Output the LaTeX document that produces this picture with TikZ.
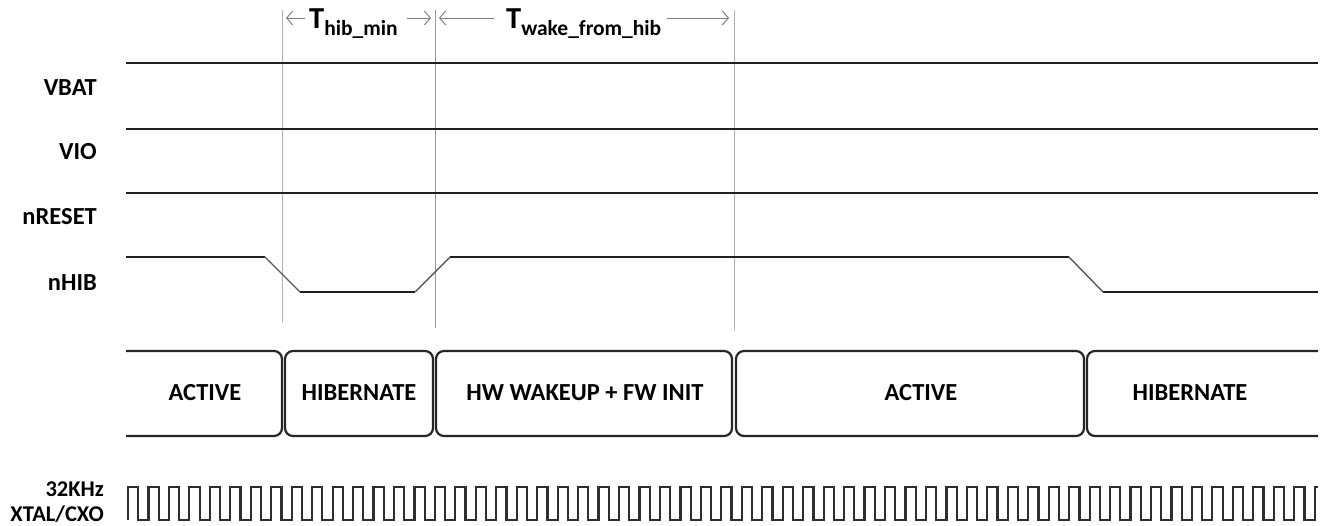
\documentclass[tikz,border=0pt]{standalone}
\usepackage{fontspec}
\setmainfont{Carlito}
\usetikzlibrary{arrows.meta}

\begin{document}
\begin{tikzpicture}[x=1pt,y=-1pt,
  wave/.style={line width=2.8pt,draw=black!88},
  slope/.style={line width=1.4pt,draw=black!65},
  clock/.style={line width=2.2pt,draw=black!82,line join=miter},
  guide/.style={line width=0.8pt,draw=black!30},
  span arrow/.style={line width=1pt,draw=black!50,-{Straight Barb[length=6pt,width=14pt]}},
  sig node/.style={anchor=east,inner sep=0pt,font=\fontsize{24.5}{26}\selectfont\bfseries},
  state node/.style={inner sep=0pt,font=\fontsize{24.5}{26}\selectfont\bfseries},
  bus/.style={line width=2.2pt,draw=black!85,rounded corners=8pt}]

  \useasboundingbox (0,0) rectangle (1322,525);

  % signal names
  \node[sig node] (vbat) at (97,88) {VBAT};
  \node[sig node] (vio) at (97,152) {VIO};
  \node[sig node] (nreset) at (97,217) {nRESET};
  \node[sig node] (nhib) at (97,283) {nHIB};
  \node[sig node,font=\fontsize{22.5}{24}\selectfont\bfseries] (xtal1) at (104,489) {32KHz};
  \node[sig node,font=\fontsize{22.5}{24}\selectfont\bfseries] (xtal2) at (104,514) {XTAL/CXO};

  % guide lines
  \coordinate (g1 top) at (282,10);  \coordinate (g1 bot) at (282,322);
  \coordinate (g2 top) at (435,10);  \coordinate (g2 bot) at (435,328);
  \coordinate (g3 top) at (734,10);  \coordinate (g3 bot) at (734,330);
  \draw[guide] (g1 top) -- (g1 bot);
  \draw[guide,draw=black!40] (g2 top) -- (g2 bot);
  \draw[guide] (g3 top) -- (g3 bot);

  % timing spans
  \node[anchor=base west,inner sep=0pt,font=\bfseries] (thib) at (309,28)
    {{\fontsize{30.5}{31}\selectfont T}\raisebox{-7pt}{\fontsize{21.5}{22}\selectfont hib\_min}};
  \node[anchor=base west,inner sep=0pt,font=\bfseries] (twake) at (506,28)
    {{\fontsize{30.5}{31}\selectfont T}\raisebox{-7pt}{\fontsize{21.5}{22}\selectfont wake\_from\_hib}};
  \coordinate (a1) at (305,18); \coordinate (a1 tip) at (286,18);
  \coordinate (a2) at (407,18); \coordinate (a2 tip) at (431,18);
  \coordinate (a3) at (494,18); \coordinate (a3 tip) at (439,18);
  \coordinate (a4) at (667,18); \coordinate (a4 tip) at (729,18);
  \draw[span arrow] (a1) -- (a1 tip);
  \draw[span arrow] (a2) -- (a2 tip);
  \draw[span arrow] (a3) -- (a3 tip);
  \draw[span arrow] (a4) -- (a4 tip);

  % supplies
  \draw[wave] (126,63) -- (1318,63);
  \draw[wave] (126,129) -- (1318,129);
  \draw[wave] (126,193) -- (1318,193);

  % nHIB
  \draw[wave] (126,257) -- (265,257);
  \draw[slope] (265,257) -- (300,292);
  \draw[wave] (300,292) -- (415,292);
  \draw[slope] (415,292) -- (450,257);
  \draw[wave] (450,257) -- (1069,257);
  \draw[slope] (1069,257) -- (1103,292);
  \draw[wave] (1103,292) -- (1318,292);

  % states
  \draw[bus] (126,351) -- (282,351) -- (282,436) -- (126,436);
  \draw[bus] (285,351) rectangle (433,436);
  \draw[bus] (436,351) rectangle (732,436);
  \draw[bus] (736,351) rectangle (1084,436);
  \draw[bus] (1318,351) -- (1087,351) -- (1087,436) -- (1318,436);
  \node[state node] (s1) at (205,393) {ACTIVE};
  \node[state node] (s2) at (359,393) {HIBERNATE};
  \node[state node] (s3) at (585,393) {HW WAKEUP + FW INIT};
  \node[state node] (s4) at (921,393) {ACTIVE};
  \node[state node] (s5) at (1190,393) {HIBERNATE};

  % 32KHz clock
  \draw[clock] (128,520) \foreach \k in {1,...,58} {
      -- ++(0,-33) -- ++(10.23,0) -- ++(0,33) -- ++(10.23,0) }
    -- ++(0,-33) -- (1318,487);
\end{tikzpicture}
\end{document}
